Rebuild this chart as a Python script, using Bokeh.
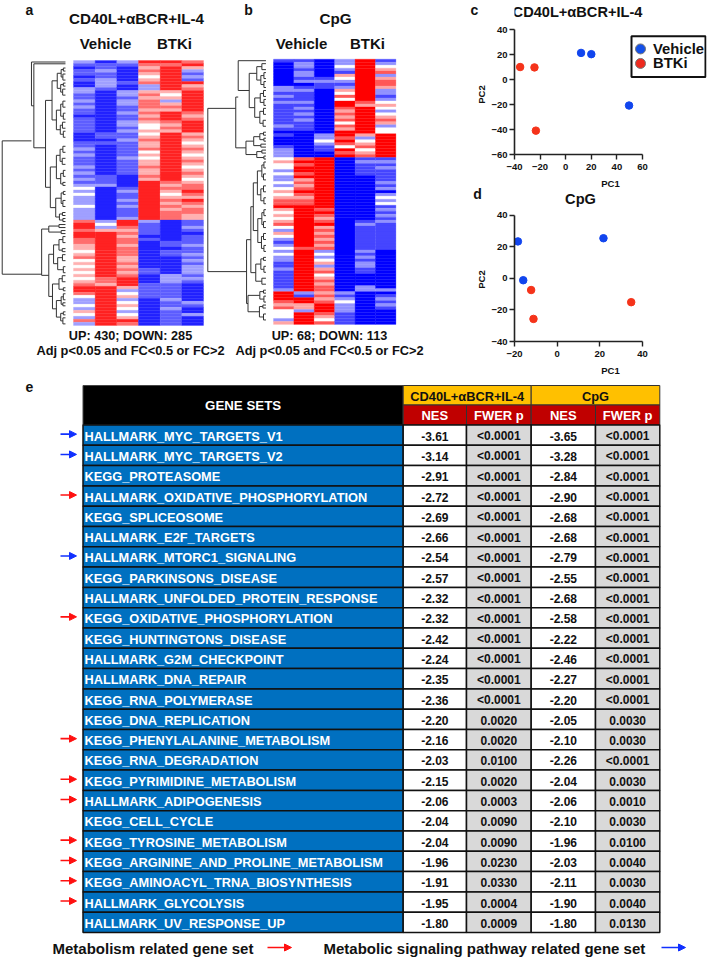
from bokeh.embed import file_html
from bokeh.resources import INLINE
from bokeh.layouts import column, row
from bokeh.models import (Range1d, LinearColorMapper, FixedTicker,
                          Arrow, NormalHead, ColumnDataSource)
from bokeh.plotting import figure
from bokeh.core.properties import value
from bokeh.palettes import interp_palette

# ---------- DATA ----------
LEVELS = {"B": -2.0, "b": -1.45, "l": -0.85, "w": 0.0, "p": 0.7, "r": 1.3, "R": 2.0}

heat_a_veh1 = "lbBbbBbBBl lbblblbbBb bbbbBBBbbl blbbblblbl blwlwlllwl lllrRRrRRr rppwprwpwp wpwprRRrwl lwlpwlrl"
heat_a_veh2 = "Bbblbblllb BBBBBBBBBB BBBBbbBbBB BBBBBBBBbb blBBBBBBBB BBBlwlpRRR RRRRRRRRRR RRrrpRRRRR RRRRRRRR"
heat_a_veh3 = "lbBBBBBbBB llbllbblbb llblbblbbb bblbbbbbBB BBblbblblb bblRRrprpr rprrrpprpr prRRRplwpl wpwlwpRr"
heat_a_btk1 = "Rrprpwprll prprrrprpr pwwpwprppr wpwpprpprp RRRRRRRRRR RRRlbbbbBb BBBBBBBBBb bBBBbbbbbB BBBBBBBB"
heat_a_btk2 = "RrRRRRRRRR pwplprpRRR rprpRRRRRR RRRRRRRRRR rprpwprprp rrrBBBBBBB bbBbbBBBBB Blllbbbbbl bblbbbbb"
heat_a_btk3 = "rRplblbRpr RRRRRRRrpr RRRRprpwpr pwprpwprpw prrRrpRrpr rppbblbBbb blbblblbll lblbBBBBBB lbBBlBBB"

heat_b_veh1 = "bBBBBBBBBl lblblbbbbb bblbBbBBBb lllwpwwlwl lwlwpwprrR pwpwprwlpw lblwlwllbb lbbbbbblRR Rrprwwwlp"
heat_b_veh2 = "bllbllblBb lbbblblblb lbbbBBBBBB BBBrRrRRrR prprRrprrR RRRRRRRRRR RRRrRRRRRR RRRRRRRRlb RRpplRRRR"
heat_b_veh3 = "BBBBBBblbb BBBBBBBBBB BBBBBllwlb bBBRRRRRRR RRRRRRRRRR rRrprRprpr prprlwlwpl prwprprrpr prRRRrpwr"
heat_b_btk1 = "llwlbpwlbl pwrwRRrprp rwrpRRrRrw RrRBBBBBBB BBBBBBBBBB BBBBBBBBBB BBBBBBBBBB BBBBBBBBlb lwlllbbbb"
heat_b_btk2 = "RRRRRRRRRR RRRRrpRRRR RRRRRplwpr wprblbbbbB BBBBBBBBBB BBBBblbbbb bbbblblbll bbBBBBllBB BBBBBBBBB"
heat_b_btk3 = "blwprlprrp llblwpwlwp rplwwRRRRR RRRblblbbb blblBlwlwb lblblbbbbb bbbbBBBBBB BBBBBBBlBb lblbBBBBB"

# dendrograms: (merge height, child, child[, drawn row]); a bare number is a leaf row
dend_a = (2.92,
          (1.57, 0, (1.46, 0.6,
             (0.92,
              (0.62, (0.38, (0.2, (0.1, 2, 3), (0.12, 4, 6)), (0.22, (0.1, 7, 8), (0.13, 9, 11))),
                     (0.42, (0.22, (0.12, 13, 15), (0.1, 17, 19)), (0.24, (0.14, 20, 22), (0.1, 23, 25)))),
              (0.7, (0.42, (0.25, (0.12, 28, 30), (0.15, 32, 34)), (0.22, (0.1, 36, 38), (0.12, 40, 41))),
                    (0.45, (0.2, (0.1, 43, 44), (0.12, 46, 48)), (0.28, (0.14, 50, 51), (0.12, 52, 53)))), 29)), 26.7),
          (1.1, (0.77, (0.3, 54, 55), (0.2, 56, 57)),
                (0.77, (0.55, (0.3, (0.12, 58, 60), (0.15, 62, 63)), (0.36, (0.14, 64, 66), (0.1, 68, 70))),
                       (0.6, (0.3, (0.15, 71, 73), (0.1, 75, 76)), (0.42, (0.2, (0.1, 77, 79), (0.12, 80, 81)), (0.22, (0.1, 83, 84), (0.12, 85, 87))))), 71), 40)

dend_b = (2.85,
          (1.48, (1.36, 0, (0.82, (0.45, (0.2, 1, 3), (0.25, (0.1, 4, 6), (0.1, 7, 9))),
                               (0.55, (0.28, (0.12, 10, 12), (0.1, 13, 15)), (0.3, (0.12, 16, 18), (0.14, 20, 22)))), 12.7),
                 (0.98, (0.6, (0.3, (0.12, 24, 25), (0.1, 26, 27)), (0.25, 28, 29)), (0.45, (0.2, 30, 31), (0.1, 32, 33))), 16.5),
          (0.95, (0.74, (0.62, (0.42, (0.2, (0.1, 34, 36), (0.12, 38, 40)), (0.25, (0.12, 42, 44), (0.1, 46, 48))),
                             (0.4, (0.2, (0.1, 50, 52), (0.12, 54, 56)), (0.22, (0.12, 58, 60), (0.1, 62, 64)))),
                        (0.5, (0.25, (0.12, 66, 67), (0.1, 69, 71)), (0.2, 73, 75))),
                 (0.88, (0.3, (0.12, 77, 78), (0.1, 79, 81)), (0.32, (0.15, 82, 83), (0.12, 85, 87)))), 60.5)

pca_c_vehicle_x = [12, 20, 49.5]
pca_c_vehicle_y = [21.3, 20.3, -20.8]
pca_c_btki_x = [-35.6, -24.4, -23.3]
pca_c_btki_y = [10, 9.7, -40.9]
pca_d_vehicle_x = [21.7, -18.4, -15.9]
pca_d_vehicle_y = [25.4, 23.4, -1.2]
pca_d_btki_x = [-12.2, -11.1, 34.7]
pca_d_btki_y = [-7.4, -25.7, -15.1]

gene_sets = ["HALLMARK_MYC_TARGETS_V1", "HALLMARK_MYC_TARGETS_V2", "KEGG_PROTEASOME",
             "HALLMARK_OXIDATIVE_PHOSPHORYLATION", "KEGG_SPLICEOSOME", "HALLMARK_E2F_TARGETS",
             "HALLMARK_MTORC1_SIGNALING", "KEGG_PARKINSONS_DISEASE", "HALLMARK_UNFOLDED_PROTEIN_RESPONSE",
             "KEGG_OXIDATIVE_PHOSPHORYLATION", "KEGG_HUNTINGTONS_DISEASE", "HALLMARK_G2M_CHECKPOINT",
             "HALLMARK_DNA_REPAIR", "KEGG_RNA_POLYMERASE", "KEGG_DNA_REPLICATION",
             "KEGG_PHENYLALANINE_METABOLISM", "KEGG_RNA_DEGRADATION", "KEGG_PYRIMIDINE_METABOLISM",
             "HALLMARK_ADIPOGENESIS", "KEGG_CELL_CYCLE", "KEGG_TYROSINE_METABOLISM",
             "KEGG_ARGININE_AND_PROLINE_METABOLISM", "KEGG_AMINOACYL_TRNA_BIOSYNTHESIS",
             "HALLMARK_GLYCOLYSIS", "HALLMARK_UV_RESPONSE_UP"]
nes_cd40 = ["-3.61", "-3.14", "-2.91", "-2.72", "-2.69", "-2.66", "-2.54", "-2.57", "-2.32", "-2.32", "-2.42",
            "-2.24", "-2.35", "-2.36", "-2.20", "-2.16", "-2.03", "-2.15", "-2.06", "-2.04", "-2.04", "-1.96",
            "-1.91", "-1.95", "-1.80"]
fwer_cd40 = ["<0.0001"] * 14 + ["0.0020", "0.0020", "0.0100", "0.0020", "0.0003", "0.0090", "0.0090", "0.0230",
                                "0.0330", "0.0004", "0.0009"]
nes_cpg = ["-3.65", "-3.28", "-2.84", "-2.90", "-2.68", "-2.68", "-2.79", "-2.55", "-2.68", "-2.58", "-2.22",
           "-2.46", "-2.27", "-2.20", "-2.05", "-2.10", "-2.26", "-2.04", "-2.06", "-2.10", "-1.96", "-2.03",
           "-2.11", "-1.90", "-1.80"]
fwer_cpg = ["<0.0001"] * 14 + ["0.0030", "0.0030", "<0.0001", "0.0030", "0.0010", "0.0030", "0.0100", "0.0040",
                               "0.0030", "0.0040", "0.0130"]
metabolism_rows = [3, 9, 15, 17, 18, 20, 21, 22, 23]
signaling_rows = [0, 1, 6]

# ---------- STYLE ----------
FONT = value("Liberation Sans")
FN = "Liberation Sans"
SPLIT_X = 487


def bare(width, height, x_range, y_range):
    p = figure(width=width, height=height, x_range=x_range, y_range=y_range, toolbar_location=None,
               output_backend="svg", x_axis_type=None, y_axis_type=None, min_border=0)
    p.outline_line_color = None
    p.grid.visible = False
    return p


def txt(p, x, y, s, size, color="#111111", align="center", **kw):
    p.text([x], [y], text=[s], text_font=FONT, text_font_style="bold", text_font_size=f"{size}px",
           text_color=color, text_align=align, text_baseline="middle", **kw)


# ---------- panels a + b ----------
TOP_H = 378
fab = bare(SPLIT_X, TOP_H, Range1d((0 - 73) / 21.67, (SPLIT_X - 73) / 21.67), Range1d((378 - 60) / 3.01, (0 - 60) / 3.01))
fab.extra_x_ranges["b"] = Range1d((0 - 273) / 20.4, (SPLIT_X - 273) / 20.4)
fab.extra_y_ranges["b"] = Range1d((378 - 58.7) / 2.98, (0 - 58.7) / 2.98)
fab.extra_x_ranges["page"] = Range1d(0, SPLIT_X)
fab.extra_y_ranges["page"] = Range1d(378, 0)


def heat(p, cols, low, high, xr="default", yr="default"):
    mapper = LinearColorMapper(palette=interp_palette([low, "#ffffff", high], 256), low=-2, high=2)
    xs0, xs1, ys0, ys1, vs = [], [], [], [], []
    for c, col in enumerate(cols):
        for r, ch in enumerate(col.replace(" ", "")):
            xs0.append(c); xs1.append(c + 1); ys0.append(r); ys1.append(r + 1); vs.append(LEVELS[ch])
    src = ColumnDataSource(dict(l=xs0, r=xs1, t=ys0, b=ys1, v=vs))
    p.quad(left="l", right="r", top="t", bottom="b", source=src,
           fill_color={"field": "v", "transform": mapper}, line_color={"field": "v", "transform": mapper},
           line_width=0.3, x_range_name=xr, y_range_name=yr)


def dendro(p, tree, gap, xr="default", yr="default"):
    x0, x1, y0, y1 = [], [], [], []

    def walk(n):
        if not isinstance(n, tuple):
            return 0.0, n + 0.5
        h, a, b = n[0], n[1], n[2]
        ha, ya = walk(a)
        hb, yb = walk(b)
        x0.extend([-gap - ha, -gap - hb, -gap - h])
        x1.extend([-gap - h, -gap - h, -gap - h])
        y0.extend([ya, yb, ya])
        y1.extend([ya, yb, yb])
        return h, (n[3] if len(n) > 3 else (ya + yb) / 2)

    walk(tree)
    p.segment(x0, y0, x1, y1, line_color="#333333", line_width=1, x_range_name=xr, y_range_name=yr)


heat(fab, [heat_a_veh1, heat_a_veh2, heat_a_veh3, heat_a_btk1, heat_a_btk2, heat_a_btk3], "#2222ff", "#ff2222")
heat(fab, [heat_b_veh1, heat_b_veh2, heat_b_veh3, heat_b_btk1, heat_b_btk2, heat_b_btk3], "#0000ff", "#ff0000", "b", "b")
dendro(fab, dend_a, 0.37)
dendro(fab, dend_b, 0.37, "b", "b")

for x, y, s, z in [(29, 9, "a", 14), (248, 9, "b", 14), (474, 9, "c", 14), (477, 193, "d", 14),
                   (136, 18, "CD40L+αBCR+IL-4", 15.2), (335, 18, "CpG", 15.2),
                   (105, 43, "Vehicle", 15), (174, 43, "BTKi", 15),
                   (301, 43, "Vehicle", 15), (367, 43, "BTKi", 15),
                   (130, 335, "UP: 430; DOWN: 285", 12.7), (329, 335, "UP: 68; DOWN: 113", 12.7),
                   (130, 350, "Adj p<0.05 and FC<0.5 or FC>2", 12.8), (329, 350, "Adj p<0.05 and FC<0.5 or FC>2", 12.8)]:
    txt(fab, x, y, s, z, x_range_name="page", y_range_name="page")
for y in (94, 279):
    txt(fab, 481, y, "PC2", 9.5, angle=1.5708, x_range_name="page", y_range_name="page")


# ---------- panels c, d ----------
def pca(h, bottom, xr, yr, xt, yt, xbound, ybound, vx, vy, bx, by, page_y):
    p = figure(width=707 - SPLIT_X, height=h, x_range=Range1d(*xr), y_range=Range1d(*yr), toolbar_location=None,
               output_backend="svg", min_border_left=514 - SPLIT_X, min_border_right=1, min_border_top=0,
               min_border_bottom=bottom, x_axis_label="PC1")
    p.outline_line_color = None
    p.grid.visible = False
    for ax, t in ((p.xaxis[0], xt), (p.yaxis[0], yt)):
        ax.ticker = FixedTicker(ticks=t)
        ax.axis_line_width = 1.6
        ax.axis_line_color = "#222222"
        ax.major_tick_line_width = 1.4
        ax.major_tick_line_color = "#222222"
        ax.major_tick_out = 5
        ax.major_tick_in = 0
        ax.minor_tick_line_color = None
        ax.major_label_text_font = FN
        ax.major_label_text_font_style = "bold"
        ax.major_label_text_font_size = "9.5px"
        ax.major_label_text_color = "#111111"
    ax = p.xaxis[0]
    ax.axis_label_text_font = FN
    ax.axis_label_text_font_style = "bold"
    ax.axis_label_text_font_size = "9.5px"
    ax.axis_label_text_color = "#111111"
    ax.bounds = xbound
    ax.major_label_standoff = 4
    ax.axis_label_standoff = 5
    p.yaxis[0].bounds = ybound
    p.yaxis[0].major_label_standoff = 2
    p.scatter(vx, vy, size=7.5, color="#1145EE")
    p.scatter(bx, by, size=7.5, color="#F5331A")
    # frame spans these page pixels
    p.extra_x_ranges["page"] = Range1d(514, 706)
    p.extra_y_ranges["page"] = Range1d(*page_y)
    return p


fc = pca(191, 32, (-40, 110), (-60, 40 + 30 * 100 / 129), [-40, -20, 0, 20, 40, 60], [-60, -40, -20, 0, 20, 40],
         (-40, 60), (-60, 40), pca_c_vehicle_x, pca_c_vehicle_y, pca_c_btki_x, pca_c_btki_y, (159, 0))
fd = pca(187, 35, (-20, 70), (-40, 40 + 24 * 80 / 128), [-20, 0, 20, 40], [-40, -20, 0, 20, 40],
         (-20, 40), (-40, 40), pca_d_vehicle_x, pca_d_vehicle_y, pca_d_btki_x, pca_d_btki_y, (343, 191))
txt(fc, 577, 12, "CD40L+αBCR+IL-4", 14.6, x_range_name="page", y_range_name="page")
txt(fd, 580, 199, "CpG", 14.6, x_range_name="page", y_range_name="page")

# legend of panel c, drawn in page pixels of its frame
legend_labels = ["Vehicle", "BTKi"]
legend_colors = ["#1450E8", "#EE2A1E"]
fc.quad(left=[631], right=[705], top=[37], bottom=[79], fill_color=None, line_color="#111111", line_width=2,
        x_range_name="page", y_range_name="page")
for i, (s, c) in enumerate(zip(legend_labels, legend_colors)):
    fc.scatter([640], [50 + 15 * i], size=10, fill_color=c, line_color="#777777", x_range_name="page", y_range_name="page")
    txt(fc, 652.5, 50 + 15 * i, s, 14.8, align="left", x_range_name="page", y_range_name="page")

# ---------- panel e ----------
ft = bare(707, 580, Range1d(0, 707), Range1d(958, 378))
EDGES = [82.5, 402.7, 466, 530.7, 595, 659.3]
HEAD_TOP, HEAD_MID, BODY_TOP, BODY_BOT = 385, 404.5, 424.5, 932
N = len(gene_sets)
RH = (BODY_BOT - BODY_TOP) / N


def cell(l, r, t, b, fill, lw=1.5, lc="#111111"):
    ft.quad(left=[l], right=[r], top=[t], bottom=[b], fill_color=fill, line_color=lc, line_width=lw)


txt(ft, 29, 386, "e", 14)
cell(EDGES[0], EDGES[1], HEAD_TOP, BODY_TOP, "#000000", 1, "#444444")
txt(ft, (EDGES[0] + EDGES[1]) / 2, 405, "GENE SETS", 13.3, "#ffffff")
cell(EDGES[1], EDGES[3], HEAD_TOP, HEAD_MID, "#FFC000", 1, "#333333")
cell(EDGES[3], EDGES[5], HEAD_TOP, HEAD_MID, "#FFC000", 1, "#333333")
txt(ft, (EDGES[1] + EDGES[3]) / 2, 395.5, "CD40L+αBCR+IL-4", 12.8)
txt(ft, (EDGES[3] + EDGES[5]) / 2, 395.5, "CpG", 12.8)
for i, s in enumerate(["NES", "FWER p", "NES", "FWER p"]):
    cell(EDGES[i + 1], EDGES[i + 2], HEAD_MID, BODY_TOP, "#C00000", 1, "#333333")
    txt(ft, (EDGES[i + 1] + EDGES[i + 2]) / 2, 415, s, 13, "#ffffff")

for i in range(N):
    t = BODY_TOP + i * RH
    b = t + RH
    m = (t + b) / 2 + 1
    cell(EDGES[0], EDGES[1], t, b, "#0070C0")
    txt(ft, EDGES[0] + 1.5, m, gene_sets[i], 12.8, "#ffffff", align="left")
    for j, (vals, fill) in enumerate([(nes_cd40, "#ffffff"), (fwer_cd40, "#D9D9D9"),
                                      (nes_cpg, "#ffffff"), (fwer_cpg, "#D9D9D9")]):
        cell(EDGES[j + 1], EDGES[j + 2], t, b, fill)
        txt(ft, (EDGES[j + 1] + EDGES[j + 2]) / 2, m, vals[i], 12)


def arrow(x0, x1, y, color):
    ft.add_layout(Arrow(end=NormalHead(size=7, fill_color=color, line_color=color), x_start=x0, y_start=y,
                        x_end=x1, y_end=y, line_color=color, line_width=1.6))


for rows, color in ((metabolism_rows, "#FF1010"), (signaling_rows, "#1030FF")):
    for r in rows:
        arrow(60, 76, BODY_TOP + (r + 0.5) * RH - 1, color)

txt(ft, 52, 948, "Metabolism related gene set", 15, align="left")
arrow(267, 291, 947, "#FF1010")
txt(ft, 323, 948, "Metabolic signaling pathway related gene set", 15, align="left")
arrow(661, 685, 947, "#1030FF")

page = column(row(fab, column(fc, fd, spacing=0), spacing=0), ft, spacing=0)
open("out.html", "w").write(file_html(page, INLINE))
